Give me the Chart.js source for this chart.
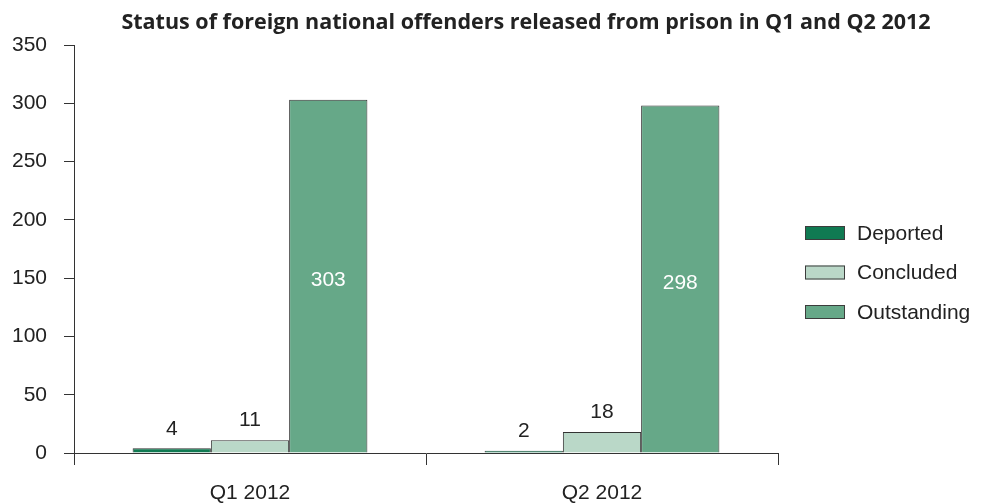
<!DOCTYPE html>
<html>
<head>
<meta charset="utf-8">
<script src="https://cdn.jsdelivr.net/npm/chart.js@4.4.1/dist/chart.umd.min.js"></script>
<style>
  html, body { margin: 0; padding: 0; background: #fff; }
  #wrap { width: 983px; height: 504px; }
</style>
</head>
<body>
<div id="wrap"><canvas id="fnoChart"></canvas></div>
<script>
const chartTitle = 'Status of foreign national offenders released from prison in Q1 and Q2 2012';
const quarters = ['Q1 2012', 'Q2 2012'];
const seriesNames = ['Deported', 'Concluded', 'Outstanding'];
const deported = [4, 2];
const concluded = [11, 18];
const outstanding = [303, 298];
const yTicks = [0, 50, 100, 150, 200, 250, 300, 350];

const textFont = '"Liberation Sans", Arial, sans-serif';
const ink = '#222';

// value labels, title and the legend on the right
const extras = {
    id: 'extras',
    afterDatasetsDraw(chart) {
        const ctx = chart.ctx;
        ctx.save();
        ctx.font = '21px ' + textFont;
        ctx.textAlign = 'center';
        chart.data.datasets.forEach((ds, i) => {
            chart.getDatasetMeta(i).data.forEach((bar, j) => {
                const v = ds.data[j];
                const p = bar.getProps(['x', 'y', 'base'], true);
                if (v > 100) {
                    ctx.fillStyle = '#fff';
                    ctx.textBaseline = 'middle';
                    ctx.fillText(v, p.x, (p.y + p.base) / 2 + 4);
                } else {
                    ctx.fillStyle = ink;
                    ctx.textBaseline = 'bottom';
                    ctx.fillText(v, p.x, p.y - 9);
                }
            });
        });
        ctx.restore();
    },
    afterDraw(chart) {
        const ctx = chart.ctx;
        ctx.save();
        ctx.fillStyle = ink;
        ctx.font = 'bold 21.5px "Open Sans", sans-serif';
        ctx.textAlign = 'center';
        ctx.textBaseline = 'middle';
        ctx.fillText(chartTitle, 526, 23);

        ctx.font = '21px ' + textFont;
        ctx.textAlign = 'left';
        chart.data.datasets.forEach((ds, i) => {
            const cy = 233 + i * 39.5;
            ctx.fillStyle = ds.backgroundColor;
            ctx.fillRect(805, cy - 7, 40, 14);
            ctx.strokeStyle = '#3c3c3c';
            ctx.lineWidth = 1;
            ctx.strokeRect(805.5, cy - 6.5, 39, 13);
            ctx.fillStyle = ink;
            ctx.fillText(ds.label, 857, cy + 1);
        });
        ctx.restore();
    }
};

new Chart(document.getElementById('fnoChart'), {
    type: 'bar',
    data: {
        labels: quarters,
        datasets: [
            { label: seriesNames[0], data: deported, backgroundColor: '#107a52' },
            { label: seriesNames[1], data: concluded, backgroundColor: '#bad8c8' },
            { label: seriesNames[2], data: outstanding, backgroundColor: '#66a888' }
        ]
    },
    options: {
        responsive: true,
        maintainAspectRatio: false,
        animation: false,
        layout: { padding: { top: 45, right: 205, bottom: 0, left: 12 } },
        datasets: {
            bar: {
                borderColor: '#333',
                borderWidth: 1,
                categoryPercentage: 0.667,
                barPercentage: 1
            }
        },
        plugins: {
            legend: { display: false },
            tooltip: { enabled: false }
        },
        scales: {
            x: {
                afterFit: scale => { scale.height = 51; },
                grid: {
                    offset: true,
                    drawOnChartArea: false,
                    tickLength: 12,
                    color: '#333'
                },
                border: { color: '#333' },
                ticks: {
                    color: ink,
                    padding: 16,
                    font: { family: textFont, size: 21 }
                }
            },
            y: {
                min: 0,
                max: 350,
                afterFit: scale => { scale.width = 62; },
                afterBuildTicks: scale => {
                    scale.ticks = yTicks.map(v => ({ value: v }));
                },
                grid: {
                    drawOnChartArea: false,
                    tickLength: 10,
                    color: '#333'
                },
                border: { color: '#333' },
                ticks: {
                    color: ink,
                    padding: 17,
                    font: { family: textFont, size: 21 }
                }
            }
        }
    },
    plugins: [extras]
});
</script>
</body>
</html>
